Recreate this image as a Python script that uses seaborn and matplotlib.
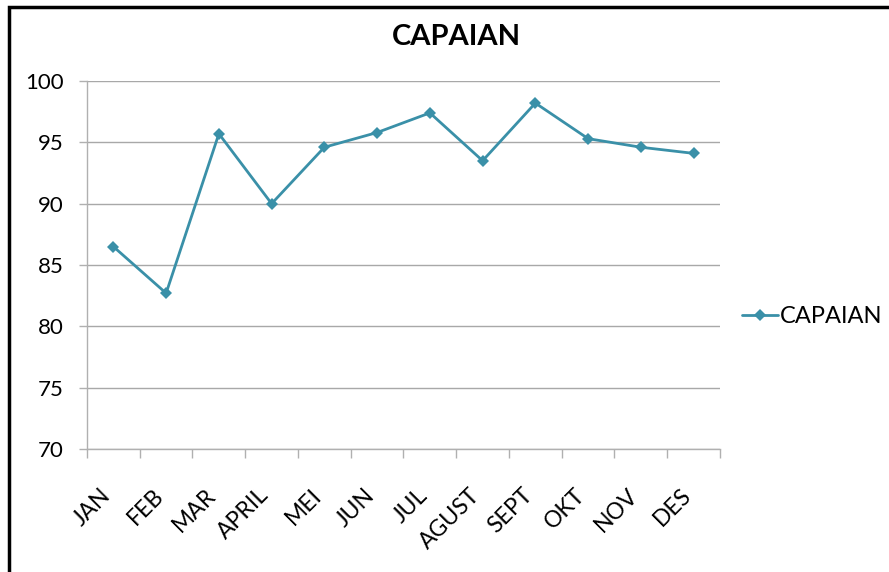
import numpy as np
import matplotlib
matplotlib.use('Agg')
import matplotlib.pyplot as plt
import matplotlib.transforms as mtransforms
import pandas as pd
import seaborn as sns
from matplotlib.patches import Rectangle

# data
bulan = ['JAN', 'FEB', 'MAR', 'APRIL', 'MEI', 'JUN', 'JUL', 'AGUST', 'SEPT', 'OKT', 'NOV', 'DES']
capaian = [86.5, 82.7, 95.7, 90.0, 94.6, 95.8, 97.4, 93.5, 98.2, 95.3, 94.6, 94.1]

df = pd.DataFrame({'bulan': bulan, 'CAPAIAN': capaian})

sns.set_style('white')
plt.rcParams['font.family'] = ['Lato', 'DejaVu Sans']
plt.rcParams['text.color'] = 'black'
plt.rcParams['xtick.labelcolor'] = 'black'
plt.rcParams['ytick.labelcolor'] = 'black'

fig = plt.figure(figsize=(8.89, 5.72), dpi=100)
ax = fig.add_axes([87/889, 1-449/572, (720-87)/889, (449-81)/572])

sns.lineplot(data=df, x='bulan', y='CAPAIAN', ax=ax, sort=False, color='#3a90a8',
             linewidth=2.0, marker='D', markersize=6.5, markeredgewidth=0, label='CAPAIAN')

ax.set_ylim(70, 100)
ax.set_yticks(np.arange(70, 101, 5))
ax.set_xlim(-0.5, len(bulan) - 0.5)
ax.set_xticks(range(len(bulan)))
ax.set_xticklabels(bulan, rotation=45, ha='right', va='center', rotation_mode='anchor')
ax.set_xticks(np.arange(-0.5, len(bulan), 1), minor=True)
ax.tick_params(axis='x', which='major', bottom=True, length=0, pad=31, labelsize=16.5)
ax.tick_params(axis='x', which='minor', bottom=True, length=6.5, color='#b0b0b0', width=1, direction='out')
ax.tick_params(axis='y', left=True, length=6, color='#b0b0b0', width=1, labelsize=16, pad=11, direction='out')
shift = mtransforms.ScaledTranslation(-6/100, 0, fig.dpi_scale_trans)
for lab in ax.get_xticklabels():
    lab.set_transform(lab.get_transform() + shift)
ax.grid(axis='y', color='#a8a8a8', linewidth=1)
ax.set_xlabel('')
ax.set_ylabel('')
for s in ['top', 'right']:
    ax.spines[s].set_visible(False)
for s in ['left', 'bottom']:
    ax.spines[s].set_color('#b0b0b0')
    ax.spines[s].set_linewidth(1)

fig.text(456/889, 1 - 37/572, 'CAPAIAN', fontsize=21, fontweight='bold', ha='center', va='center')

ax.legend(loc='center left', bbox_to_anchor=(1.02, 0.36), frameon=False, fontsize=17,
          handlelength=1.5, handletextpad=0.1, borderaxespad=0)

# outer frame (only partly visible in the reference)
fig.patches.append(Rectangle((9/889, -0.2), 1.2, 1 - 7/572 + 0.2, transform=fig.transFigure,
                             fill=False, edgecolor='black', linewidth=2.5))

fig.savefig('out.png', dpi=100)
